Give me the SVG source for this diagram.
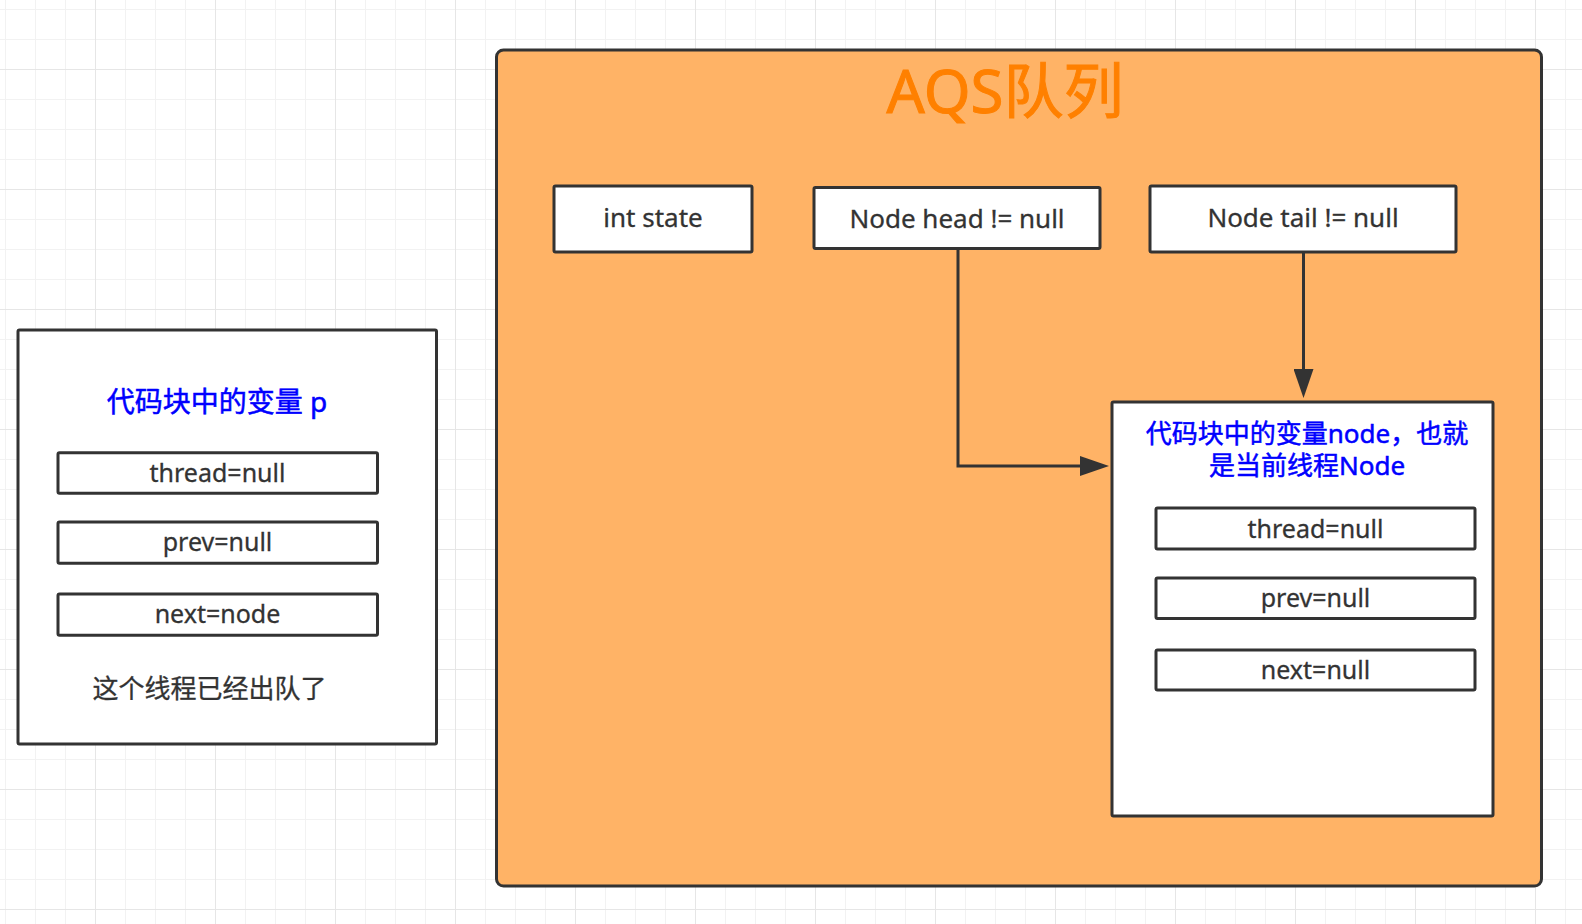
<svg xmlns="http://www.w3.org/2000/svg" width="1582" height="924" viewBox="0 0 1582 924">
  <style>
    .box { fill: #ffffff; stroke: #333333; stroke-width: 3; }
    .txt { font-family: 'Noto Sans', 'Noto Sans CJK SC', sans-serif; fill: #333333; stroke: #333333; stroke-width: 0.3; text-anchor: middle; }
    .blue { font-family: 'Noto Sans', 'Noto Sans CJK SC', sans-serif; fill: #0000ff; stroke: #0000ff; stroke-width: 0.5; text-anchor: middle; }
    .conn { fill: none; stroke: #333333; stroke-width: 3; }
  </style>
  <defs>
    <pattern id="gridMinor" width="30" height="30" x="5" y="9" patternUnits="userSpaceOnUse">
      <path d="M0 0.5 H30 M0.5 0 V30" fill="none" stroke="#f2f2f2" stroke-width="1"/>
    </pattern>
    <pattern id="gridMajor" width="120" height="120" x="95" y="69" patternUnits="userSpaceOnUse">
      <path d="M0 0.5 H120 M0.5 0 V120" fill="none" stroke="#e6e6e6" stroke-width="1"/>
    </pattern>
    <marker id="arrow" markerUnits="userSpaceOnUse" markerWidth="30" markerHeight="20" refX="1" refY="10" orient="auto">
      <path d="M0 0 L29 10 L0 20 Z" fill="#333333"/>
    </marker>
  </defs>

  <g id="background">
    <rect x="0" y="0" width="1582" height="924" fill="#ffffff"/>
    <rect x="0" y="0" width="1582" height="924" fill="url(#gridMinor)"/>
    <rect x="0" y="0" width="1582" height="924" fill="url(#gridMajor)"/>
  </g>

  <g id="aqs-queue">
    <rect x="496.5" y="50" width="1045" height="836" rx="7" fill="#ffb366" stroke="#333333" stroke-width="3"/>
    <text x="1005" y="113" font-family="'Noto Sans', 'Noto Sans CJK SC', sans-serif" font-size="60" fill="#ff8000" stroke="#ff8000" stroke-width="1" text-anchor="middle">AQS队列</text>
  </g>

  <g id="int-state">
    <rect class="box" x="554" y="186" width="198" height="66" rx="1.5"/>
    <text class="txt" x="653" y="227" font-size="26">int state</text>
  </g>

  <g id="node-head">
    <rect class="box" x="814" y="187.5" width="286" height="61" rx="1.5"/>
    <text class="txt" x="957" y="228" font-size="26">Node head != null</text>
  </g>

  <g id="node-tail">
    <rect class="box" x="1150" y="186" width="306" height="66" rx="1.5"/>
    <text class="txt" x="1303" y="227" font-size="26">Node tail != null</text>
  </g>

  <g id="current-node">
    <rect class="box" x="1112" y="402" width="381" height="414" rx="1.5"/>
    <text class="blue" font-size="26"><tspan x="1307" y="443">代码块中的变量node，也就</tspan><tspan x="1307" y="475">是当前线程Node</tspan></text>
    <rect class="box" x="1156" y="508" width="319" height="41" rx="1.5"/>
    <text class="txt" x="1315.5" y="538" font-size="25">thread=null</text>
    <rect class="box" x="1156" y="578" width="319" height="40.5" rx="1.5"/>
    <text class="txt" x="1315.5" y="607" font-size="25">prev=null</text>
    <rect class="box" x="1156" y="650" width="319" height="40" rx="1.5"/>
    <text class="txt" x="1315.5" y="679" font-size="25">next=null</text>
  </g>

  <g id="node-p">
    <rect class="box" x="18" y="330" width="418.5" height="414" rx="1.5"/>
    <text class="blue" x="217" y="412" font-size="28">代码块中的变量 p</text>
    <rect class="box" x="58" y="452.7" width="319.5" height="40.6" rx="1.5"/>
    <text class="txt" x="217.5" y="482" font-size="25">thread=null</text>
    <rect class="box" x="58" y="522" width="319.5" height="41.3" rx="1.5"/>
    <text class="txt" x="217.5" y="551" font-size="25">prev=null</text>
    <rect class="box" x="58" y="594" width="319.5" height="41.3" rx="1.5"/>
    <text class="txt" x="217.5" y="623" font-size="25">next=node</text>
    <text class="txt" x="209.5" y="698" font-size="26">这个线程已经出队了</text>
  </g>

  <g id="connectors">
    <path class="conn" d="M958 249 V466 H1081" marker-end="url(#arrow)"/>
    <path class="conn" d="M1303.5 252 V370" marker-end="url(#arrow)"/>
  </g>
</svg>
